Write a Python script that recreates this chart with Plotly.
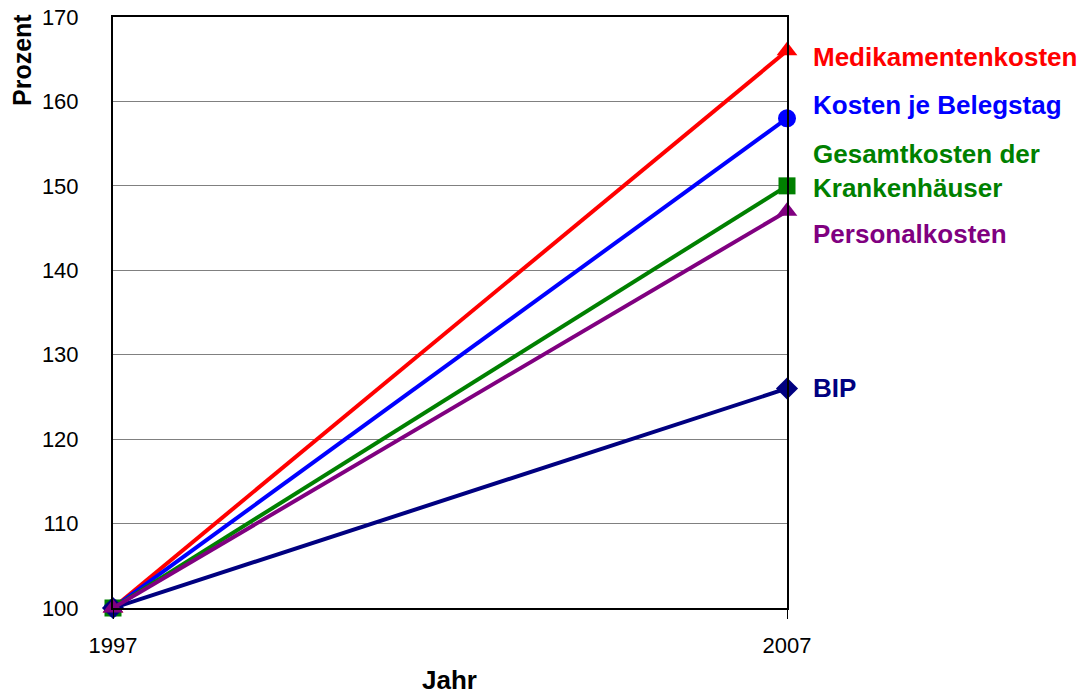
import plotly.graph_objects as go

years = [1997, 2007]
series_names = ["Medikamentenkosten", "Kosten je Belegstag", "Gesamtkosten der<br>Krankenhäuser", "BIP", "Personalkosten"]
medikamente = [100, 166]
belegstag = [100, 158]
gesamt = [100, 150]
bip = [100, 126]
personal = [100, 147]
y_ticks = [100, 110, 120, 130, 140, 150, 160, 170]

values = [medikamente, belegstag, gesamt, bip, personal]
colors = ["#FF0000", "#0000FF", "#008000", "#000080", "#800080"]
symbols = ["triangle-up", "circle", "square", "diamond", "triangle-up"]
sizes = [18, 18, 17, 17, 18]

fig = go.Figure()
for name, vals, c, s, sz in zip(series_names, values, colors, symbols, sizes):
    fig.add_trace(go.Scatter(x=years, y=vals, mode="lines+markers", name=name,
                             line=dict(color=c, width=4),
                             marker=dict(symbol=s, size=sz, color=c),
                             cliponaxis=False, showlegend=False))

label_shift = {"Medikamentenkosten": -6, "Kosten je Belegstag": 13, "Gesamtkosten der<br>Krankenhäuser": 15,
               "BIP": 0, "Personalkosten": -23}
for name, vals, c in zip(series_names, values, colors):
    fig.add_annotation(x=1, xref="paper", y=vals[-1], yref="y", text="<b>" + name + "</b>",
                       showarrow=False, xanchor="left", xshift=24, yshift=label_shift[name],
                       align="left", font=dict(family="Arial, Liberation Sans", size=26, color=c))

fig.add_annotation(x=0, xref="paper", y=1, yref="paper", text="<b>Prozent</b>", textangle=-90,
                   showarrow=False, xanchor="center", yanchor="top", xshift=-91, yshift=5,
                   font=dict(family="Arial, Liberation Sans", size=25, color="black"))
fig.add_annotation(x=0.5, xref="paper", y=0, yref="paper", text="<b>Jahr</b>",
                   showarrow=False, xanchor="center", yanchor="middle", xshift=-1, yshift=-72,
                   font=dict(family="Arial, Liberation Sans", size=26, color="black"))

fig.update_layout(
    width=1086, height=695,
    margin=dict(l=113, r=299, t=17, b=87, autoexpand=False),
    paper_bgcolor="white", plot_bgcolor="white",
    font=dict(family="Arial, Liberation Sans", size=22, color="black"),
    xaxis=dict(range=[1997, 2007], tickvals=years, ticks="outside", ticklen=9, tickcolor="black",
               showgrid=False, zeroline=False, showline=True, linecolor="black", linewidth=2,
               mirror=True, tickfont=dict(size=22), ticklabelstandoff=8, automargin=False),
    yaxis=dict(range=[100, 170], tickvals=y_ticks, showgrid=True, gridcolor="#808080", gridwidth=1,
               zeroline=False, showline=True, linecolor="black", linewidth=2, mirror=True,
               ticks="", tickfont=dict(size=22), ticklabelstandoff=28, automargin=False),
)
fig.write_html("out.html")
